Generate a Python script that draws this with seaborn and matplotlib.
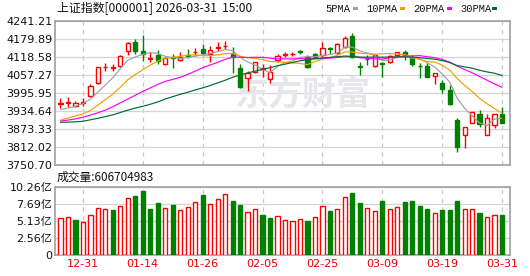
import numpy as np
import matplotlib
matplotlib.use("Agg")
import matplotlib.pyplot as plt
from matplotlib.patches import Rectangle
import seaborn as sns

# ---------------- data ----------------
tick_labels = ['12-31', '01-14', '01-26', '02-05', '02-25', '03-09', '03-19', '03-31']
tick_idx = [3, 11, 19, 27, 35, 43, 51, 59]

open_ = [3960, 3963, 3952, 3964, 3987.3, 4029.4, 4085, 4082, 4089.7, 4139.8,
         4169.4, 4139.8, 4113.5, 4126.1, 4094.3, 4121, 4109.1, 4125, 4135, 4146.6,
         4129.5, 4151, 4155.5, 4129.5, 4080.6, 4046.5, 4067, 4080, 4044.2, 4109.1,
         4127, 4129.5, 4138.5, 4120.5, 4129.5, 4126.1, 4149, 4131.8, 4154.6, 4192.1,
         4087, 4112, 4089.7, 4098, 4101.1, 4126.1, 4137.5, 4117, 4090, 4088.6,
         4055.6, 4029.4, 4006.6, 3904.2, 3853, 3892.9, 3924.7, 3853, 3887.2, 3924.7]
high = [3978.2, 3981.6, 3968, 3978, 4026, 4085.5, 4097.7, 4094, 4126, 4171.7,
        4180.8, 4194.4, 4135.2, 4143.2, 4120, 4128.4, 4135.2, 4145.5, 4148.9, 4162.6,
        4158, 4169.4, 4174, 4152.3, 4094.3, 4071.5, 4103.4, 4094.3, 4092, 4128.4,
        4135.2, 4137.5, 4144.4, 4126.1, 4134.1, 4171.7, 4152.3, 4166, 4192.1, 4200.1,
        4103.4, 4126.1, 4128.4, 4103.4, 4126.1, 4137.5, 4143.2, 4126.1, 4097.7, 4097.7,
        4064, 4040.8, 4023.7, 3909.9, 3879.5, 3933, 3938.4, 3923.6, 3925, 3949.8]
low = [3946.3, 3949.7, 3948, 3953, 3983.9, 4028, 4072.7, 4071, 4086, 4126.1,
       4129.5, 4106.8, 4101.1, 4094.3, 4092, 4082.9, 4105.7, 4117, 4123.9, 4126.1,
       4103.4, 4139.8, 4145.5, 4063.6, 4012.3, 4003.2, 4063.6, 4049.9, 4031.7, 4103.4,
       4120.5, 4123.9, 4128.4, 4080.6, 4117, 4120.5, 4128.4, 4128.4, 4148.9, 4117,
       4057.9, 4092, 4085.7, 4052.2, 4098, 4123.9, 4109.1, 4089.7, 4048.8, 4052.2,
       4026, 3995.3, 3955.4, 3793.8, 3807.5, 3892.9, 3881.5, 3852, 3875.8, 3892.9]
close = [3962, 3964.5, 3963.5, 3965, 4021.4, 4084.1, 4086.3, 4084, 4121.6, 4166,
         4140.9, 4129.5, 4114.8, 4106.8, 4117, 4116, 4120.5, 4123, 4136.5, 4134.1,
         4143.2, 4152.3, 4156.9, 4120.5, 4018, 4063.6, 4101.1, 4081, 4067, 4123.9,
         4128.4, 4130.7, 4137.5, 4084.1, 4120.5, 4148.9, 4147.5, 4162.6, 4185.3, 4120.5,
         4086, 4111, 4126.1, 4096.5, 4123.9, 4135.2, 4126.1, 4095.4, 4089, 4052.2,
         4063.6, 4008.9, 3957.7, 3813.2, 3879.2, 3932.7, 3889.4, 3912.2, 3924.7, 3892.9]
prev_close = 3958.0

ma5 = [3940, 3945, 3951, 3960, 3975.3, 3999.7, 4024.1, 4048.2, 4079.5, 4108.4,
       4119.8, 4128.4, 4134.6, 4131.6, 4121.8, 4116.8, 4115, 4116.7, 4122.6, 4126,
       4131.5, 4137.8, 4144.6, 4141.4, 4118.2, 4102.3, 4092, 4076.8, 4066.1, 4087.3,
       4100.3, 4106.2, 4117.5, 4120.9, 4120.2, 4124.3, 4127.7, 4132.7, 4153, 4153,
       4140.4, 4133.1, 4125.8, 4108, 4108.7, 4118.5, 4121.6, 4115.4, 4113.9, 4099.6,
       4085.3, 4061.8, 4034.3, 3979.1, 3944.5, 3918.3, 3894.4, 3885.3, 3907.6, 3910.4]
ma10 = [3904, 3911, 3918, 3925, 3937, 3955, 3974, 3993, 4016, 4041.8,
        4059.7, 4076.2, 4091.4, 4105.5, 4115.1, 4118.3, 4121.7, 4125.6, 4127.1, 4123.9,
        4124.1, 4126.4, 4130.6, 4132, 4122.1, 4116.9, 4114.9, 4110.7, 4103.8, 4102.8,
        4101.3, 4099.1, 4097.2, 4093.5, 4103.8, 4112.3, 4117, 4125.1, 4136.9, 4136.6,
        4132.4, 4130.4, 4129.3, 4130.5, 4130.8, 4129.5, 4127.3, 4120.6, 4111, 4104.1,
        4101.9, 4091.7, 4074.9, 4046.5, 4022.1, 4001.8, 3978.1, 3959.8, 3943.4, 3927.5]
ma20 = [3900.8, 3904, 3908, 3914, 3921, 3929, 3938, 3950, 3963, 3976,
        3989, 4002, 4014, 4026, 4036, 4043, 4050, 4060, 4071, 4082.9,
        4091.9, 4101.3, 4111, 4118.8, 4118.6, 4117.6, 4118.3, 4118.2, 4115.4, 4113.3,
        4112.7, 4112.8, 4113.9, 4112.8, 4112.9, 4114.6, 4115.9, 4117.9, 4120.4, 4119.7,
        4116.8, 4114.8, 4113.2, 4112, 4117.3, 4120.9, 4122.1, 4122.9, 4124, 4120.4,
        4117.1, 4111, 4102.1, 4088.5, 4076.4, 4065.6, 4052.7, 4040.2, 4027.2, 4015.8]
ma30 = [3896.3, 3897, 3898, 3900, 3905, 3910, 3916, 3922, 3930, 3938,
        3945, 3951, 3958, 3966, 3976, 3984, 3992, 3999, 4007, 4014,
        4022, 4031, 4040, 4050, 4058, 4065, 4071, 4077, 4083, 4089.5,
        4095, 4100.6, 4106.4, 4110.4, 4113.7, 4115.8, 4117.9, 4120.5, 4122.6, 4121.1,
        4119.3, 4118.6, 4119, 4118.7, 4118.9, 4119.5, 4119.7, 4118.8, 4117.2, 4114.5,
        4111.8, 4107.1, 4100.4, 4090.2, 4085.6, 4081.2, 4074.1, 4068.5, 4063.8, 4056.1]

volume = [5.51, 5.66, 5.26, 4.95, 5.96, 7.01, 6.86, 6.76, 7.31, 8.51,
          8.86, 9.61, 6.91, 7.81, 7.01, 7.51, 6.71, 7.16, 7.96, 9.01,
          7.61, 8.36, 9.11, 8.11, 7.51, 6.41, 6.86, 6.01, 5.56, 5.81,
          5.26, 5.11, 5.36, 5.11, 5.66, 7.31, 6.61, 6.86, 8.66, 9.31,
          7.81, 7.01, 6.61, 8.11, 6.86, 7.16, 7.96, 8.11, 7.36, 6.91,
          6.26, 6.76, 6.76, 8.11, 6.86, 6.86, 6.31, 5.66, 5.96, 6.07]

price_ticks = [3750.70, 3812.02, 3873.33, 3934.64, 3995.95, 4057.27, 4118.58, 4179.89, 4241.21]
vol_ticks = [0, 2.56, 5.13, 7.69, 10.26]
vol_tick_labels = ['0', '2.56亿', '5.13亿', '7.69亿', '10.26亿']

title = '上证指数[000001] 2026-03-31  15:00'
vol_title = '成交量:606704983'
legend_names = ['5PMA', '10PMA', '20PMA', '30PMA']

# ---------------- style ----------------
sns.set_style('white')
plt.rcParams['font.family'] = ['DejaVu Sans', 'Noto Sans CJK SC']

RED = '#ff0000'
GREEN = '#008000'
MA_COLORS = ['#a0a0a0', '#f0a000', '#ff00ff', '#006b35']
GRID = '#d4d4d4'
SPINE = '#a0a0a0'

W, H = 530, 276
fig = plt.figure(figsize=(W / 100, H / 100), dpi=100)
fig.patch.set_facecolor('white')

L, R = 54.5, 509.5
ax = fig.add_axes([L / W, 1 - 165 / H, (R - L) / W, (165 - 21.3) / H])
axv = fig.add_axes([L / W, 1 - 255 / H, (R - L) / W, (255 - 186.7) / H])

o = np.array(open_); c = np.array(close); h = np.array(high); lo = np.array(low)
x = np.arange(len(c))
up = c >= o

# wicks
ax.vlines(x, lo, h, colors=np.where(up, RED, GREEN), lw=1.0, zorder=3)
# bodies
bottom = np.minimum(o, c)
height = np.maximum(np.abs(c - o), 0.8)
ax.bar(x[up], height[up], bottom=bottom[up], width=0.56, facecolor='white',
       edgecolor=RED, lw=1.0, zorder=4)
ax.bar(x[~up], height[~up], bottom=bottom[~up], width=0.56, facecolor=GREEN,
       edgecolor=GREEN, lw=1.0, zorder=4)

# moving averages
for ma, col in zip([ma5, ma10, ma20, ma30], MA_COLORS):
    sns.lineplot(x=x, y=ma, ax=ax, color=col, lw=0.85, legend=False, zorder=5)

ax.set_xlim(-0.8, 60.0)
ax.set_ylim(price_ticks[0], price_ticks[-1])
ax.set_yticks(price_ticks)
ax.set_yticklabels([f'{v:.2f}' for v in price_ticks])
ax.set_xticks(tick_idx)
ax.tick_params(axis='x', labelbottom=False, length=0)
ax.tick_params(axis='y', length=0, pad=1.5, labelsize=8, labelcolor='#111111')
ax.set_xlabel(''); ax.set_ylabel('')
ax.grid(axis='y', color=GRID, lw=0.9, ls='-')
ax.grid(axis='x', color='#c8c8c8', lw=0.9, ls=(0, (3.5, 3.5)))
ax.set_axisbelow(True)
for s in ax.spines.values():
    s.set_color(SPINE); s.set_linewidth(1.2)

# watermark
ax.text(0.397, 0.49, '东方财富', transform=ax.transAxes, fontsize=24.5,
        color='#e6e6eb', ha='left', va='center', zorder=1,
        family=['Noto Sans CJK SC'], fontweight='bold')

# volume
v = np.array(volume)
chg_up = np.diff(np.r_[prev_close, c]) >= 0
axv.bar(x[chg_up], v[chg_up], width=0.56, facecolor='white', edgecolor=RED, lw=1.0, zorder=3)
axv.bar(x[~chg_up], v[~chg_up], width=0.56, facecolor=GREEN, edgecolor=GREEN, lw=1.0, zorder=3)
axv.set_xlim(-0.8, 60.0)
axv.set_ylim(0, 10.26)
axv.set_yticks(vol_ticks)
axv.set_yticklabels(vol_tick_labels)
axv.set_xticks(tick_idx)
axv.set_xticklabels(tick_labels)
axv.tick_params(axis='x', length=0, pad=3, labelsize=8, labelcolor='#e60000')
axv.tick_params(axis='y', length=0, pad=1.5, labelsize=8, labelcolor='#111111')
axv.grid(axis='y', color=GRID, lw=0.9, ls='-')
axv.grid(axis='x', color='#c8c8c8', lw=0.9, ls=(0, (3.5, 3.5)))
axv.set_axisbelow(True)
for s in axv.spines.values():
    s.set_color(SPINE); s.set_linewidth(1.2)

# titles
fig.text(57 / W, 1 - 8.5 / H, title, fontsize=8.6, va='center', ha='left',
         color='#111111', family=['Noto Sans CJK SC', 'DejaVu Sans'])
fig.text(57 / W, 1 - 177.5 / H, vol_title, fontsize=8.5, va='center', ha='left',
         color='#111111', family=['Noto Sans CJK SC', 'DejaVu Sans'])

# legend
leg_text_x = [325, 366.5, 413, 460]
leg_box_x = [352.5, 400, 446.5, 491.5]
for name, col, tx, bx in zip(legend_names, MA_COLORS, leg_text_x, leg_box_x):
    fig.text(tx / W, 1 - 8.5 / H, name, fontsize=7.5, va='center', ha='left',
             color='#111111', family=['Liberation Mono'])
    fig.patches.append(Rectangle((bx / W, 1 - 10.3 / H), 5 / W, 3.3 / H,
                                 transform=fig.transFigure, facecolor=col,
                                 edgecolor='none', figure=fig))

fig.savefig('out.png', dpi=100, facecolor='white')
